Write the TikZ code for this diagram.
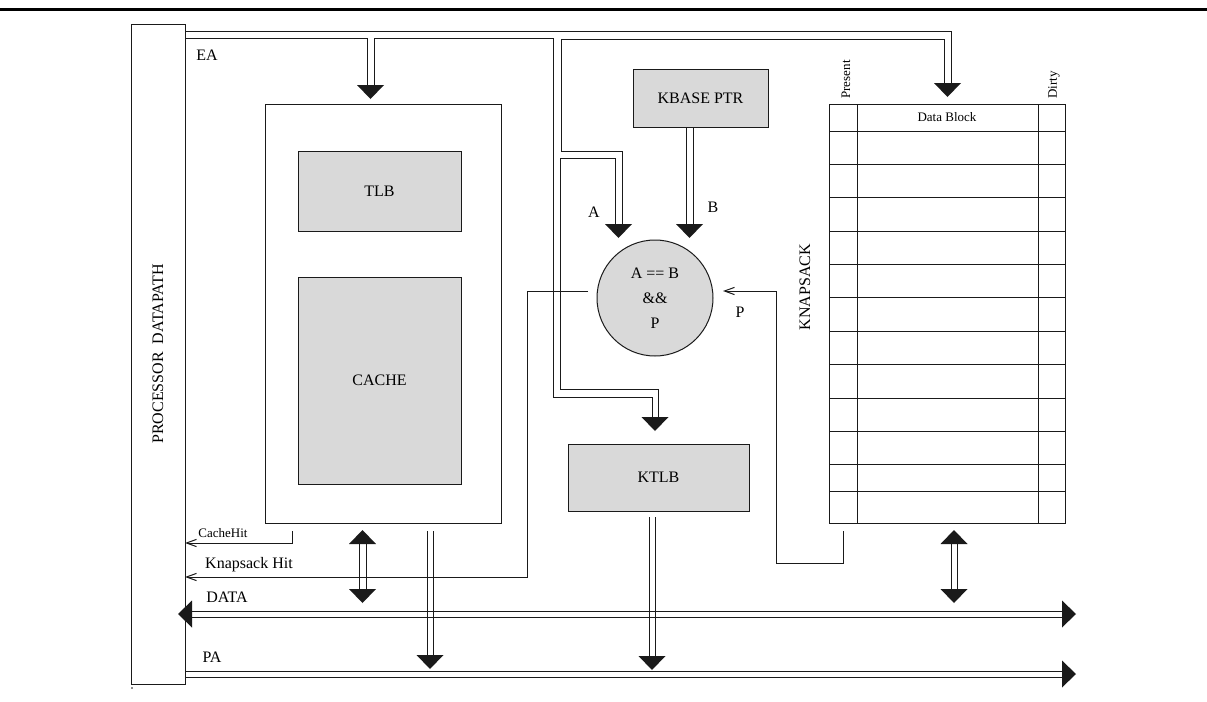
\documentclass[tikz,border=0pt]{standalone}
\usepackage{fontspec}
\setmainfont{Liberation Serif}
\usetikzlibrary{arrows.meta,positioning}
\definecolor{unitgray}{HTML}{D9D9D9}
\definecolor{wire}{HTML}{1A1A1A}
\tikzset{
  unitbox/.style={
    draw=wire,
    fill=unitgray,
    line width=0.5pt,
    align=center,
    inner sep=0pt,
    font=\fontsize{8}{9}\selectfont
  },
  framebox/.style={draw=wire, line width=0.5pt, inner sep=0pt},
  buswire/.style={draw=wire, line width=0.5pt},
  sigwire/.style={-{Straight Barb[length=5pt,width=3.6pt]}, draw=wire, line width=0.5pt},
  biglabel/.style={font=\fontsize{8}{9}\selectfont, inner sep=0pt},
  smalllabel/.style={font=\fontsize{6.5}{7.5}\selectfont, inner sep=0pt},
  bushead/.pic={\fill[wire] (0,0) -- (-14,13.5) -- (-14,-13.5) -- cycle;}
}

\begin{document}
\begin{tikzpicture}[x=0.5pt, y=-0.5pt]
\useasboundingbox (0,0) rectangle (1207,702);
\draw[line width=1.5pt] (0,9) -- (1207,9);

% processor and cache side
\node[framebox, minimum width=27pt, minimum height=330pt] (proc) at (158,354) {};
\node[biglabel, rotate=90] (proclbl) at (proc.center) {PROCESSOR\ \ DATAPATH};
\node[framebox, minimum width=118pt, minimum height=209.5pt] (cachebox) at (383,313.5) {};
\node[unitbox, minimum width=81.5pt, minimum height=40pt] (tlb) at (379.5,191) {TLB};
\node[unitbox, minimum width=81.5pt, minimum height=103.5pt] (cache) at (379.5,380.5) {CACHE};

% knapsack side
\node[unitbox, minimum width=67.5pt, minimum height=29pt] (kbase) at (700.5,98) {KBASE PTR};
\node[unitbox, circle, minimum size=58pt, font=\fontsize{8}{12.5}\selectfont] (cmp) at (655,298) {A == B\\\&\&\\P};
\node[unitbox, minimum width=90.5pt, minimum height=33.5pt] (ktlb) at (658.5,477.5) {KTLB};
\node[framebox, minimum width=118pt, minimum height=209.5pt] (knap) at (947,313.5) {};
\draw[buswire] (857,104) -- (857,523);
\draw[buswire] (1038,104) -- (1038,523);
\foreach \ry in {131,164,197,231,264,297,331,364,398,431,464,491}
  \draw[buswire] (829,\ry) -- (1065,\ry);
\node[smalllabel] (datablk) at (947,117.5) {Data Block};
\node[smalllabel, rotate=90, anchor=west] (present) at (846,99) {Present};
\node[smalllabel, rotate=90, anchor=west] (dirty) at (1054,99) {Dirty};
\node[biglabel, rotate=90] (knaplbl) at (805,287) {KNAPSACK};

% labels
\node[biglabel] (ealbl) at (207,55) {EA};
\node[biglabel] (albl) at (594,212) {A};
\node[biglabel] (blbl) at (713,207) {B};
\node[biglabel] (plbl) at (740,312) {P};
\node[smalllabel] (chlbl) at (223,533) {CacheHit};
\node[biglabel] (khlbl) at (249,565) {Knapsack Hit};
\node[biglabel] (datalbl) at (227,597) {DATA};
\node[biglabel] (palbl) at (212,657) {PA};

% EA bus
\draw[buswire] (185,31) -- (951,31) -- (951,83);
\draw[buswire] (185,38) -- (367,38) -- (367,86);
\draw[buswire] (374,86) -- (374,38) -- (553,38) -- (553,397) -- (652,397) -- (652,417);
\draw[buswire] (944,83) -- (944,39) -- (561,39) -- (561,151) -- (622,151) -- (622,224);
\draw[buswire] (615,224) -- (615,158) -- (560,158) -- (560,389) -- (658,389) -- (658,417);
\pic[rotate=-90] at (370.5,99) {bushead};
\pic[rotate=-90] at (947.5,97) {bushead};
\pic[rotate=-90] at (618.5,238) {bushead};
\pic[rotate=-90] at (655,431) {bushead};

% B input
\draw[buswire] (686,127) -- (686,225);
\draw[buswire] (693,127) -- (693,225);
\pic[rotate=-90] at (689.5,238) {bushead};

% hit and present signals
\draw[sigwire] (292,531) |- (185,543);
\draw[sigwire] (588,291) -- (527,291) |- (185,577);
\draw[sigwire] (843,531) |- (776,563) |- (723,291);

% data bus
\draw[buswire] (191,611) -- (1062,611);
\draw[buswire] (191,617) -- (1062,617);
\pic[rotate=180] at (178,614) {bushead};
\pic at (1076,614) {bushead};
\draw[buswire] (359,543) -- (359,590);
\draw[buswire] (366,543) -- (366,590);
\pic[rotate=90] at (362.5,530) {bushead};
\pic[rotate=-90] at (362.5,603) {bushead};
\draw[buswire] (951,543) -- (951,589);
\draw[buswire] (957,543) -- (957,589);
\pic[rotate=90] at (954,530) {bushead};
\pic[rotate=-90] at (954,603) {bushead};

% PA bus
\draw[buswire] (185,671) -- (1062,671);
\draw[buswire] (185,677) -- (1062,677);
\pic at (1076,674) {bushead};
\draw[buswire] (427,531) -- (427,656);
\draw[buswire] (433,531) -- (433,656);
\pic[rotate=-90] at (430,669) {bushead};
\draw[buswire] (649,517) -- (649,657);
\draw[buswire] (655,517) -- (655,657);
\pic[rotate=-90] at (652,670) {bushead};

\fill[wire] (132,688) circle (0.8);
\end{tikzpicture}
\end{document}
